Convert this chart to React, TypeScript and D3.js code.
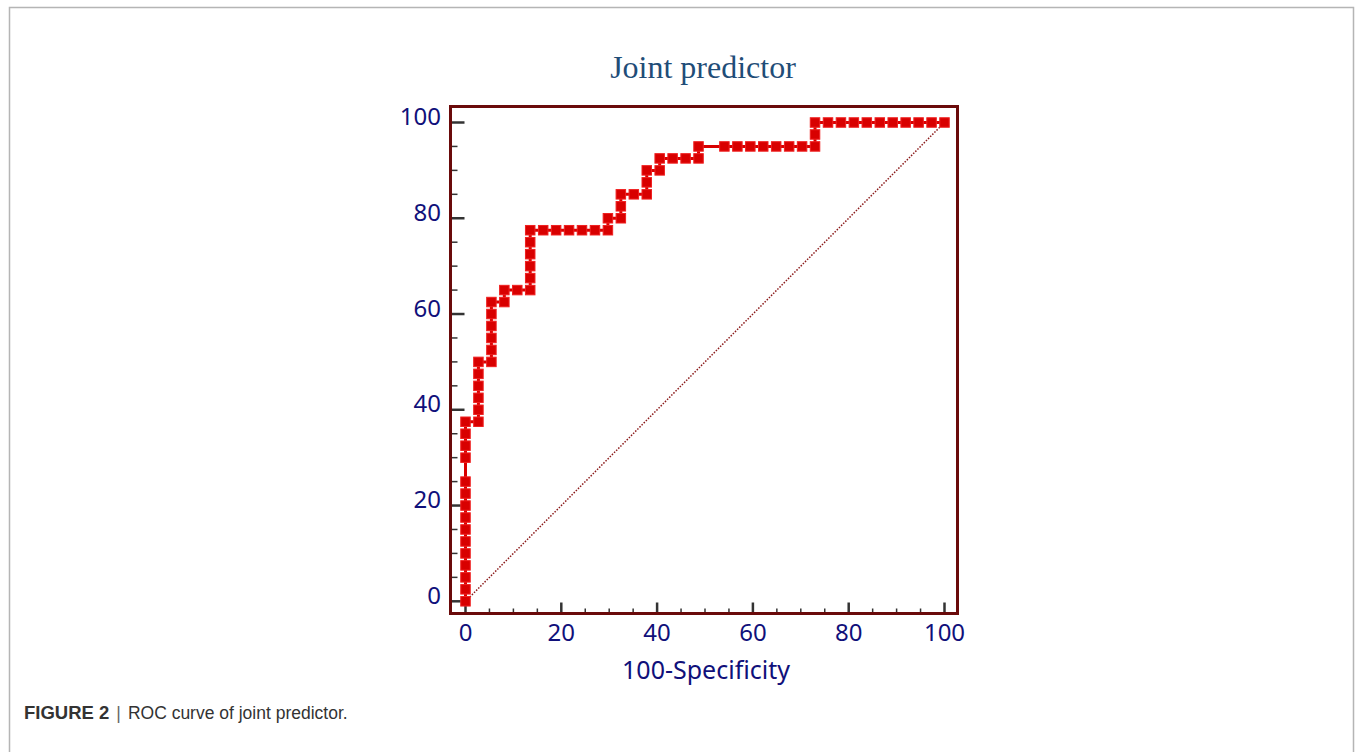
import React from "react";
import * as d3 from "d3";

// 100 - Specificity (%) for each ROC point
const fpr: number[] = [
  0, 0, 0, 0, 0, 0, 0, 0, 0, 0, 0, 0, 0, 0, 0,
  2.7, 2.7, 2.7, 2.7, 2.7, 2.7,
  5.41, 5.41, 5.41, 5.41, 5.41, 5.41,
  8.11, 8.11,
  10.81,
  13.51, 13.51, 13.51, 13.51, 13.51, 13.51,
  16.22, 18.92, 21.62, 24.32, 27.03, 29.73,
  29.73,
  32.43, 32.43, 32.43,
  35.14,
  37.84, 37.84, 37.84,
  40.54, 40.54,
  43.24, 45.95, 48.65,
  48.65,
  54.05, 56.76, 59.46, 62.16, 64.86, 67.57, 70.27, 72.97,
  72.97, 72.97,
  75.68, 78.38, 81.08, 83.78, 86.49, 89.19, 91.89, 94.59, 97.3, 100,
];

// Sensitivity (%) for each ROC point
const sensitivity: number[] = [
  0, 2.5, 5, 7.5, 10, 12.5, 15, 17.5, 20, 22.5, 25, 30, 32.5, 35, 37.5,
  37.5, 40, 42.5, 45, 47.5, 50,
  50, 52.5, 55, 57.5, 60, 62.5,
  62.5, 65,
  65,
  65, 67.5, 70, 72.5, 75, 77.5,
  77.5, 77.5, 77.5, 77.5, 77.5, 77.5,
  80,
  80, 82.5, 85,
  85,
  85, 87.5, 90,
  90, 92.5,
  92.5, 92.5, 92.5,
  95,
  95, 95, 95, 95, 95, 95, 95, 95,
  97.5, 100,
  100, 100, 100, 100, 100, 100, 100, 100, 100, 100,
];

const majorTicks: number[] = [0, 20, 40, 60, 80, 100];
const minorTicks: number[] = [5, 10, 15, 25, 30, 35, 45, 50, 55, 65, 70, 75, 85, 90, 95];
const diagonal: number[] = [0, 100];

const chartTitle = "Joint predictor";
const xTitle = "100-Specificity";
const captionBold = "FIGURE 2";
const captionText = "ROC curve of joint predictor.";

export default function App() {
  const W = 1357;
  const H = 752;
  const x = d3.scaleLinear().domain([0, 100]).range([465.5, 944.5]);
  const y = d3.scaleLinear().domain([0, 100]).range([601.3, 122.5]);

  const frame = { left: 450.5, right: 957.5, top: 106.5, bottom: 613.5 };

  const pts = fpr.map((f, i) => [f, sensitivity[i]] as [number, number]);
  const line = d3
    .line<[number, number]>()
    .x((d) => x(d[0]))
    .y((d) => y(d[1]));

  const tickFont = "'Noto Sans', 'Open Sans', sans-serif";
  const navy = "#10107a";
  const ms = 9.5;

  return (
    <svg
      width={W}
      height={H}
      style={{ position: "absolute", left: 0, top: 0, background: "#fff" }}
    >
      {/* figure border */}
      <path
        d={`M9.5,${H} L9.5,7.5 L1353.5,7.5 L1353.5,${H}`}
        fill="none"
        stroke="#b5b5b5"
        strokeWidth={1.5}
      />

      {/* title */}
      <text
        x={703}
        y={78}
        textAnchor="middle"
        fontFamily="'Liberation Serif', 'Times New Roman', serif"
        fontSize={32}
        fill="#1f4d78"
      >
        {chartTitle}
      </text>

      {/* diagonal reference */}
      <line
        x1={x(diagonal[0])}
        y1={y(diagonal[0])}
        x2={x(diagonal[1])}
        y2={y(diagonal[1])}
        stroke="#8b1a1a"
        strokeWidth={1.5}
        strokeDasharray="1.5,1.5"
      />

      {/* y ticks */}
      {majorTicks.map((t) => (
        <line
          key={"ym" + t}
          x1={frame.left}
          x2={frame.left + 14}
          y1={y(t)}
          y2={y(t)}
          stroke="#333"
          strokeWidth={2.5}
        />
      ))}
      {minorTicks.map((t) => (
        <line
          key={"yn" + t}
          x1={frame.left}
          x2={frame.left + 7}
          y1={y(t)}
          y2={y(t)}
          stroke="#333"
          strokeWidth={1.5}
        />
      ))}
      {/* x ticks */}
      {majorTicks.map((t) => (
        <line
          key={"xm" + t}
          x1={x(t)}
          x2={x(t)}
          y1={frame.bottom}
          y2={frame.bottom - 11}
          stroke="#333"
          strokeWidth={2.5}
        />
      ))}
      {minorTicks.map((t) => (
        <line
          key={"xn" + t}
          x1={x(t)}
          x2={x(t)}
          y1={frame.bottom}
          y2={frame.bottom - 5}
          stroke="#333"
          strokeWidth={1.5}
        />
      ))}

      {/* ROC curve */}
      <path d={line(pts) || ""} fill="none" stroke="#d80000" strokeWidth={3} />
      {pts.map((d, i) => (
        <rect
          key={"m" + i}
          x={x(d[0]) - ms / 2}
          y={y(d[1]) - ms / 2}
          width={ms}
          height={ms}
          fill="#d80000"
          stroke="#f02020"
          strokeWidth={1}
        />
      ))}

      {/* frame */}
      <rect
        x={frame.left}
        y={frame.top}
        width={frame.right - frame.left}
        height={frame.bottom - frame.top}
        fill="none"
        stroke="#6a0a0a"
        strokeWidth={3}
      />

      {/* y tick labels */}
      {majorTicks.map((t) => (
        <text
          key={"yl" + t}
          x={441}
          y={y(t) - 7}
          textAnchor="end"
          dominantBaseline="central"
          fontFamily={tickFont}
          fontSize={24}
          fill={navy}
        >
          {t}
        </text>
      ))}
      {/* x tick labels */}
      {majorTicks.map((t) => (
        <text
          key={"xl" + t}
          x={x(t)}
          y={641}
          textAnchor="middle"
          fontFamily={tickFont}
          fontSize={24}
          fill={navy}
        >
          {t}
        </text>
      ))}

      {/* x axis title */}
      <text
        x={706}
        y={679}
        textAnchor="middle"
        fontFamily={tickFont}
        fontSize={25}
        fill={navy}
      >
        {xTitle}
      </text>

      {/* caption */}
      <text
        x={24}
        y={719}
        fontFamily="'Liberation Sans', Arial, sans-serif"
        fontSize={17.5}
        fill="#333"
      >
        <tspan fontWeight="bold" fontSize={18.5}>
          {captionBold}
        </tspan>
        <tspan fill="#666" dx={7}>
          |
        </tspan>
        <tspan dx={7}>{captionText}</tspan>
      </text>
    </svg>
  );
}
